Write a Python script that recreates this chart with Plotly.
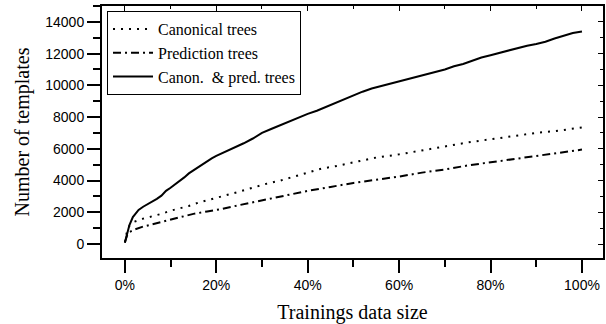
import plotly.graph_objects as go

# Training data size (%) and number of templates
x_canon_pred = [0, 1, 1.75, 3, 4, 5, 6, 7, 8, 9, 10, 11, 12, 13, 14, 15, 16, 17, 18, 19, 20,
                22, 24, 26, 28, 30, 32, 34, 36, 38, 40, 42, 44, 46, 48, 50, 52, 54, 56, 58, 60,
                62, 64, 66, 68, 70, 72, 74, 76, 78, 80, 82, 84, 86, 88, 90, 92, 94, 96, 98, 99, 100]
y_canon_pred = [100, 1200, 1700, 2150, 2350, 2500, 2650, 2850, 3050, 3350, 3550, 3750, 4000, 4200,
                4450, 4650, 4850, 5050, 5250, 5400, 5550, 5800, 6100, 6350, 6650, 7000, 7250, 7500,
                7750, 8000, 8200, 8400, 8650, 8900, 9150, 9400, 9600, 9800, 9950, 10100, 10250,
                10400, 10550, 10700, 10850, 11000, 11200, 11350, 11550, 11750, 11900, 12050, 12200,
                12350, 12500, 12600, 12750, 12950, 13150, 13300, 13350, 13400]

x_canonical = [0, 0.5, 1, 2, 4, 6, 8, 10, 12, 14, 16, 18, 20, 22, 25, 28, 31, 34, 37, 40, 43, 46,
               50, 55, 60, 65, 70, 75, 80, 85, 90, 95, 100]
y_canonical = [100, 850, 1150, 1400, 1600, 1750, 1900, 2100, 2250, 2400, 2600, 2750, 2900, 3050,
               3300, 3550, 3800, 4000, 4250, 4500, 4750, 4900, 5150, 5450, 5650, 5900, 6150, 6400,
               6600, 6800, 7000, 7150, 7350]

x_prediction = [0, 0.5, 1, 2, 4, 6, 8, 10, 12, 15, 18, 21, 25, 30, 35, 40, 45, 50, 55, 60, 65, 70,
                75, 80, 85, 90, 95, 100]
y_prediction = [100, 550, 750, 900, 1100, 1250, 1400, 1550, 1700, 1900, 2050, 2200, 2450, 2750,
                3050, 3350, 3600, 3850, 4050, 4250, 4500, 4700, 4950, 5150, 5350, 5550, 5750, 5950]

x_ticks = [0, 20, 40, 60, 80, 100]
x_labels = ["0%", "20%", "40%", "60%", "80%", "100%"]
y_ticks = [0, 2000, 4000, 6000, 8000, 10000, 12000, 14000]
y_labels = ["0", "2000", "4000", "6000", "8000", "10000", "12000", "14000"]

SERIF = "Liberation Serif"
SANS = "Liberation Sans"

fig = go.Figure()
fig.add_trace(go.Scatter(x=x_canonical, y=y_canonical, mode="lines", name="Canonical trees",
                         line=dict(color="black", width=2, dash="2px,6px")))
fig.add_trace(go.Scatter(x=x_prediction, y=y_prediction, mode="lines", name="Prediction trees",
                         line=dict(color="black", width=2, dash="8px,4px,2px,4px")))
fig.add_trace(go.Scatter(x=x_canon_pred, y=y_canon_pred, mode="lines", name="Canon.  & pred. trees",
                         line=dict(color="black", width=2)))
# invisible copy bound to the mirror axes so their inside ticks are drawn
fig.add_trace(go.Scatter(x=x_canon_pred, y=y_canon_pred, mode="lines", xaxis="x2", yaxis="y2",
                         line=dict(color="rgba(0,0,0,0)", width=0), showlegend=False, hoverinfo="skip"))

xr = [-5, 104.6]
yr = [-880, 15000]

fig.update_layout(
    width=606, height=324,
    margin=dict(l=102, r=3, t=6, b=66),
    paper_bgcolor="white", plot_bgcolor="white",
    font=dict(family=SERIF, color="black"),
    showlegend=True,
    legend=dict(x=0.01, y=0.98, xanchor="left", yanchor="top",
                bordercolor="black", borderwidth=1, bgcolor="white",
                font=dict(family=SERIF, size=16, color="black"),
                tracegroupgap=0, itemwidth=40),
    xaxis=dict(range=xr, tickvals=x_ticks, ticktext=x_labels, automargin=False,
               ticks="outside", ticklen=13, tickwidth=1.5, tickcolor="black",
               minor=dict(ticks="outside", ticklen=7, tickwidth=1.5, tickcolor="black", dtick=10, tick0=0, showgrid=False),
               showgrid=False, zeroline=False, showline=True, linecolor="black", linewidth=2, mirror=True,
               tickfont=dict(family=SANS, size=14, color="black"),
               title=dict(text="Trainings data size", font=dict(family=SERIF, size=20, color="black"), standoff=14)),
    yaxis=dict(range=yr, tickvals=y_ticks, ticktext=y_labels, automargin=False,
               ticks="outside", ticklen=13, tickwidth=1.5, tickcolor="black",
               minor=dict(ticks="outside", ticklen=7, tickwidth=1.5, tickcolor="black", dtick=1000, tick0=0, showgrid=False),
               showgrid=False, zeroline=False, showline=True, linecolor="black", linewidth=2, mirror=True,
               tickfont=dict(family=SANS, size=14, color="black"),
               title=dict(text="Number of templates", font=dict(family=SERIF, size=20, color="black"), standoff=10)),
    xaxis2=dict(range=xr, overlaying="x", side="top", tickvals=x_ticks, showticklabels=False, automargin=False,
                ticks="inside", ticklen=5, tickwidth=1.2, tickcolor="black",
                minor=dict(ticks="inside", ticklen=3, tickwidth=1.2, tickcolor="black", dtick=10, tick0=0, showgrid=False),
                showgrid=False, zeroline=False, showline=False),
    yaxis2=dict(range=yr, overlaying="y", side="right", tickvals=y_ticks, showticklabels=False, automargin=False,
                ticks="inside", ticklen=5, tickwidth=1.2, tickcolor="black",
                minor=dict(ticks="inside", ticklen=3, tickwidth=1.2, tickcolor="black", dtick=1000, tick0=0, showgrid=False),
                showgrid=False, zeroline=False, showline=False),
)

fig.write_html("out.html", config={"displayModeBar": False},
               post_script="document.body.style.margin='0';document.body.style.overflow='hidden';")
